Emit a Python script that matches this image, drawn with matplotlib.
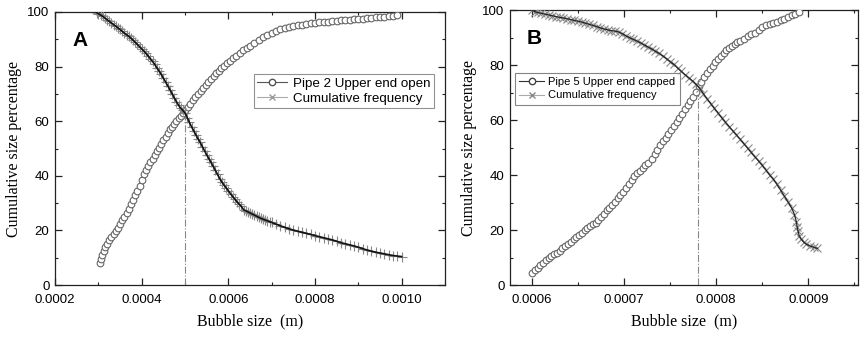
import numpy as np
import matplotlib
matplotlib.use("Agg")
import matplotlib.pyplot as plt
from matplotlib.lines import Line2D
from matplotlib.ticker import MultipleLocator, FormatStrFormatter

# ---------------- Panel A data (x in 1e-4 m, y in %) ----------------
a_size_x = [3.03, 3.06, 3.09, 3.12, 3.16, 3.2, 3.25, 3.3, 3.35, 3.4, 3.45, 3.5, 3.55, 3.6,
            3.65, 3.7, 3.75, 3.8, 3.85, 3.9, 3.95, 4.0, 4.05, 4.1, 4.15, 4.2, 4.25, 4.3,
            4.35, 4.4, 4.45, 4.5, 4.55, 4.6, 4.65, 4.7, 4.75, 4.8, 4.85, 4.9, 4.95, 5.0,
            5.06, 5.12, 5.18, 5.24, 5.3, 5.36, 5.42, 5.48, 5.54, 5.6, 5.66, 5.72, 5.78,
            5.84, 5.9, 5.97, 6.04, 6.11, 6.18, 6.26, 6.34, 6.42, 6.5, 6.6, 6.7, 6.8, 6.9,
            7.0, 7.1, 7.2, 7.3, 7.4, 7.5, 7.6, 7.7, 7.8, 7.9, 8.0, 8.1, 8.2, 8.3, 8.4,
            8.5, 8.6, 8.7, 8.8, 8.9, 9.0, 9.1, 9.2, 9.3, 9.4, 9.5, 9.6, 9.7, 9.8, 9.9]
a_size_y = [7.9, 9.5, 11.0, 12.5, 14.0, 15.2, 16.5, 17.5, 18.6, 19.6, 21.0, 22.3, 23.8, 25.0,
            26.4, 28.0, 29.6, 31.2, 32.8, 34.5, 36.2, 38.5, 40.5, 42.0, 43.5, 45.0, 46.3, 47.6,
            49.0, 50.3, 51.6, 53.0, 54.3, 55.6, 57.0, 58.0, 59.0, 60.0, 61.0, 62.0, 63.0, 64.0,
            65.2, 66.4, 67.6, 68.8, 70.0, 71.1, 72.2, 73.3, 74.4, 75.5, 76.5, 77.5, 78.5,
            79.4, 80.3, 81.2, 82.1, 83.0, 83.9, 84.9, 85.9, 86.8, 87.7, 88.8, 89.9, 90.8, 91.6,
            92.4, 93.1, 93.7, 94.2, 94.6, 95.0, 95.2, 95.4, 95.6, 95.9, 96.1, 96.3, 96.5, 96.5, 96.7,
            96.8, 97.0, 97.0, 97.2, 97.3, 97.4, 97.6, 97.7, 97.8, 98.0, 98.1, 98.3, 98.5, 98.7, 98.9]

a_freq_x = [2.96, 3.0, 3.05, 3.1, 3.15, 3.2, 3.25, 3.3, 3.35, 3.4, 3.45, 3.5, 3.55, 3.6, 3.65,
            3.7, 3.75, 3.8, 3.85, 3.9, 3.95, 4.0, 4.05, 4.1, 4.15, 4.2, 4.25, 4.3, 4.35, 4.4,
            4.45, 4.5, 4.55, 4.6, 4.65, 4.7, 4.75, 4.8, 4.85, 4.9, 4.95, 5.0, 5.05, 5.1, 5.15,
            5.2, 5.25, 5.3, 5.35, 5.4, 5.45, 5.5, 5.55, 5.6, 5.65, 5.7, 5.75, 5.8, 5.85, 5.9,
            5.95, 6.0, 6.05, 6.1, 6.15, 6.2, 6.25, 6.3, 6.35, 6.4, 6.45, 6.5, 6.55, 6.6, 6.65,
            6.7, 6.75, 6.8, 6.85, 6.9, 6.95, 7.0, 7.1, 7.2, 7.3, 7.4, 7.5, 7.6, 7.7, 7.8, 7.9,
            8.0, 8.1, 8.2, 8.3, 8.4, 8.5, 8.6, 8.7, 8.8, 8.9, 9.0, 9.1, 9.2, 9.3, 9.4, 9.5,
            9.6, 9.7, 9.8, 9.9, 10.0]
a_freq_y = [99.8, 99.4, 98.9, 98.4, 97.8, 97.2, 96.6, 96.0, 95.4, 94.8, 94.2, 93.6, 92.9, 92.3, 91.7,
            91.1, 90.4, 89.7, 88.9, 88.1, 87.3, 86.5, 85.7, 84.8, 83.9, 82.9, 81.9, 80.8, 79.6, 78.4,
            77.2, 75.8, 74.4, 73.0, 71.6, 70.1, 68.6, 67.2, 65.9, 64.7, 64.0, 63.0, 61.3, 59.6, 58.0,
            56.5, 55.0, 53.6, 52.2, 50.7, 49.2, 47.7, 46.3, 44.9, 43.5, 42.0, 40.5, 39.0, 37.7, 36.6,
            35.6, 34.5, 33.4, 32.4, 31.4, 30.5, 29.6, 28.8, 27.6, 27.2, 26.8, 26.4, 26.0, 25.6, 25.2,
            24.8, 24.4, 24.1, 23.8, 23.5, 23.2, 22.9, 22.3, 21.7, 21.1, 20.6, 20.1, 19.7, 19.3, 18.9, 18.5,
            18.1, 17.7, 17.3, 16.9, 16.5, 16.0, 15.5, 15.1, 14.7, 14.3, 13.8, 13.3, 12.8, 12.4, 12.0, 11.7,
            11.4, 11.1, 10.8, 10.6, 10.4]

# ---------------- Panel B data (x in 1e-4 m, y in %) ----------------
b_size_x = [6.0, 6.03, 6.06, 6.09, 6.12, 6.15, 6.18, 6.21, 6.24, 6.27, 6.3, 6.33, 6.36, 6.39,
            6.42, 6.45, 6.48, 6.51, 6.54, 6.57, 6.6, 6.63, 6.66, 6.69, 6.72, 6.75, 6.78, 6.81,
            6.84, 6.87, 6.9, 6.93, 6.96, 6.99, 7.02, 7.05, 7.08, 7.11, 7.14, 7.17, 7.2, 7.23,
            7.26, 7.3, 7.33, 7.36, 7.39, 7.42, 7.45, 7.48, 7.51, 7.54, 7.57, 7.6, 7.63, 7.66,
            7.69, 7.72, 7.75, 7.78, 7.81, 7.84, 7.87, 7.9, 7.93, 7.96, 7.99, 8.02, 8.05, 8.08,
            8.11, 8.14, 8.17, 8.2, 8.23, 8.26, 8.3, 8.34, 8.38, 8.42, 8.46, 8.5, 8.54, 8.58,
            8.62, 8.66, 8.7, 8.74, 8.78, 8.82, 8.86, 8.9]
b_size_y = [4.3, 5.3, 6.3, 7.2, 8.1, 9.0, 9.8, 10.5, 11.1, 11.8, 12.5, 13.4, 14.2, 15.0,
            15.8, 16.6, 17.3, 18.1, 19.0, 20.0, 20.8, 21.5, 22.1, 22.7, 23.6, 24.8, 26.0, 27.2,
            28.1, 29.2, 30.3, 31.6, 32.9, 34.0, 35.3, 36.7, 38.2, 39.5, 40.6, 41.6, 42.6, 43.6,
            44.5, 45.8, 47.5, 49.2, 50.8, 52.3, 53.6, 55.0, 56.5, 57.9, 59.3, 60.7, 62.2, 64.0,
            65.5, 67.0, 68.5, 70.2, 72.3, 74.0, 75.5, 77.0, 78.5, 79.8, 81.0, 82.2, 83.3, 84.4,
            85.3, 86.2, 87.0, 87.7, 88.3, 88.8, 89.6, 90.4, 91.2, 91.8, 92.6, 93.8, 94.6, 95.0,
            95.4, 95.8, 96.3, 96.8, 97.6, 98.3, 98.7, 99.2]

b_freq_x = [6.0, 6.03, 6.06, 6.1, 6.14, 6.18, 6.22, 6.26, 6.3, 6.34, 6.38, 6.42, 6.46, 6.5,
            6.54, 6.58, 6.62, 6.66, 6.7, 6.74, 6.78, 6.82, 6.86, 6.9, 6.94, 6.98, 7.02, 7.06,
            7.1, 7.14, 7.18, 7.22, 7.26, 7.3, 7.34, 7.38, 7.42, 7.46, 7.5, 7.54, 7.58, 7.62,
            7.66, 7.7, 7.74, 7.78, 7.82, 7.86, 7.9, 7.94, 7.98, 8.02, 8.06, 8.1, 8.14, 8.18,
            8.22, 8.26, 8.3, 8.34, 8.38, 8.42, 8.46, 8.5, 8.54, 8.58, 8.62, 8.66, 8.7, 8.74,
            8.78, 8.82, 8.85, 8.87, 8.88, 8.89, 8.9, 8.92, 8.95, 8.98, 9.02, 9.06, 9.1]
b_freq_y = [100.0, 99.4, 99.1, 98.8, 98.5, 98.2, 97.9, 97.6, 97.3, 97.1, 96.8, 96.5, 96.2, 95.9,
            95.6, 95.2, 94.8, 94.4, 94.0, 93.5, 93.1, 92.8, 92.5, 92.3, 92.0, 91.4, 90.6, 89.9,
            89.3, 88.7, 88.0, 87.3, 86.5, 85.8, 85.0, 84.2, 83.3, 82.3, 81.2, 80.2, 78.9, 77.7,
            76.5, 75.4, 74.3, 73.0, 71.5, 69.6, 67.7, 66.0, 64.2, 62.5, 60.8, 59.2, 57.6, 56.1,
            54.6, 53.0, 51.4, 49.8, 48.2, 46.6, 45.1, 43.5, 41.8, 40.0, 38.5, 36.6, 34.5, 32.3,
            30.2, 28.0, 25.6, 23.0, 21.0, 19.5, 18.0, 16.8, 15.6, 14.8, 14.2, 13.7, 13.3]

a_d50 = [5.0, 63.0]
b_d50 = [7.8, 72.0]

panel_labels = ["A", "B"]
legend_a = ["Pipe 2 Upper end open", "Cumulative frequency"]
legend_b = ["Pipe 5 Upper end capped", "Cumulative frequency"]
xlabel = "Bubble size  (m)"
ylabel = "Cumulative size percentage"

SANS = ["Liberation Sans", "DejaVu Sans"]
SERIF = ["Liberation Serif", "DejaVu Serif"]

fig = plt.figure(figsize=(8.65, 3.38), dpi=100)
axA = fig.add_axes([0.0636, 0.1568, 0.4509, 0.8077])
axB = fig.add_axes([0.5896, 0.1568, 0.4023, 0.8136])

def m(v):
    return np.array(v) * 1e-4

def style(ax, xlim, xmajor, xminor):
    ax.set_xlim(*xlim)
    ax.set_ylim(0, 100)
    ax.xaxis.set_major_locator(MultipleLocator(xmajor))
    ax.xaxis.set_minor_locator(MultipleLocator(xminor))
    ax.yaxis.set_major_locator(MultipleLocator(20))
    ax.yaxis.set_minor_locator(MultipleLocator(10))
    ax.xaxis.set_major_formatter(FormatStrFormatter('%.4f'))
    ax.tick_params(which='both', direction='in', top=True, right=True, color='#222222')
    ax.tick_params(which='major', length=5, width=0.9, labelsize=9.5)
    ax.tick_params(axis='x', which='major', pad=6.5)
    ax.tick_params(axis='y', which='major', pad=4)
    ax.tick_params(which='minor', length=2.5, width=0.8)
    for lab in ax.get_xticklabels() + ax.get_yticklabels():
        lab.set_family(SANS)
    for s in ax.spines.values():
        s.set_linewidth(0.9)
        s.set_color('#222222')
    ax.set_xlabel(xlabel, family=SERIF, fontsize=11.5, labelpad=5)
    ax.set_ylabel(ylabel, family=SERIF, fontsize=11.5, labelpad=4)

# Panel A
axA.plot(m(a_size_x), a_size_y, color='#888888', lw=0.6, marker='o', ms=4.8,
         mfc='white', mec='#666666', mew=0.8, zorder=3)
axA.plot(m(a_freq_x), a_freq_y, ls='none', marker='+', ms=6.5, mec='#888888', mew=0.8, zorder=4)
axA.plot(m(a_freq_x), a_freq_y, color='#111111', lw=1.2, zorder=5)
axA.plot([a_d50[0] * 1e-4] * 2, [0, a_d50[1]], color='#888888', lw=0.8, ls='-.', zorder=2)
style(axA, (0.0002, 0.0011), 0.0002, 0.0001)
axA.text(0.044, 0.93, panel_labels[0], transform=axA.transAxes, family=SANS,
         fontsize=15, fontweight='bold', va='top', ha='left')
hA = [Line2D([], [], color='#555555', lw=0.8, marker='o', ms=4.6, mfc='white', mec='#555555'),
      Line2D([], [], color='#aaaaaa', lw=0.8, marker='x', ms=5, mec='#999999')]
legA = axA.legend(hA, legend_a, loc='upper left', bbox_to_anchor=(0.51, 0.772),
                  prop={'family': SANS, 'size': 9.6}, frameon=True, fancybox=False,
                  edgecolor='#777777', handlelength=2.2, handletextpad=0.5,
                  borderpad=0.25, labelspacing=0.2, borderaxespad=0)
legA.get_frame().set_linewidth(0.8)

# Panel B
axB.plot(m(b_size_x), b_size_y, color='#888888', lw=0.6, marker='o', ms=4.8,
         mfc='white', mec='#666666', mew=0.8, zorder=3)
axB.plot(m(b_freq_x), b_freq_y, ls='none', marker='x', ms=5.5, mec='#8a8a8a', mew=0.8, zorder=4)
axB.plot(m(b_freq_x), b_freq_y, color='#222222', lw=0.9, zorder=5)
axB.plot([b_d50[0] * 1e-4] * 2, [0, b_d50[1]], color='#888888', lw=0.8, ls='-.', zorder=2)
style(axB, (0.000576, 0.000954), 0.0001, 0.00005)
axB.text(0.047, 0.93, panel_labels[1], transform=axB.transAxes, family=SANS,
         fontsize=15, fontweight='bold', va='top', ha='left')
hB = [Line2D([], [], color='#333333', lw=0.8, marker='o', ms=4.6, mfc='white', mec='#444444'),
      Line2D([], [], color='#aaaaaa', lw=0.8, marker='x', ms=5, mec='#888888')]
legB = axB.legend(hB, legend_b, loc='upper left', bbox_to_anchor=(0.014, 0.772),
                  prop={'family': SANS, 'size': 8.0}, frameon=True, fancybox=False,
                  edgecolor='#666666', handlelength=2.2, handletextpad=0.4,
                  borderpad=0.4, labelspacing=0.3, borderaxespad=0)
legB.get_frame().set_linewidth(0.8)

fig.savefig("out.png", dpi=100)
